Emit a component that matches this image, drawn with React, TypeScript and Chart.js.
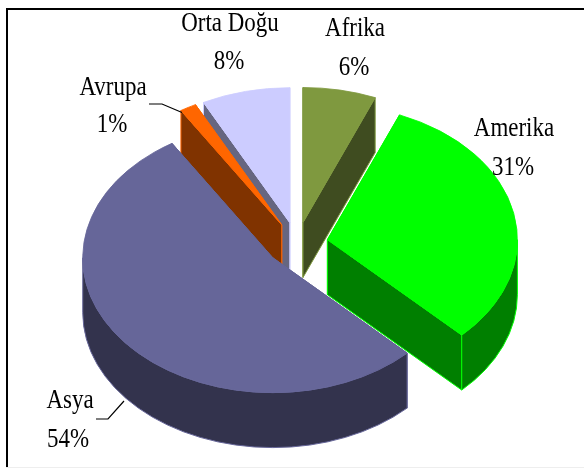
import React, { useEffect, useRef } from "react";
import { Chart } from "chart.js/auto";

const categories = ["Afrika", "Amerika", "Asya", "Avrupa", "Orta Doğu"];
const shares = [6.2, 31.3, 53.6, 1.4, 7.5];
const faceColors = ["#7F993F", "#00FF00", "#666699", "#FF6600", "#CCCCFF"];
const wallColors = ["#3F4C20", "#007F00", "#33334D", "#803300", "#666680"];
const paintOrder = [0, 4, 3, 1, 2];

const labelCenters = [355, 514, 70, 113, 230];
const nameBaselines = [36, 136, 408, 95, 31];
const valueCenters = [354, 513, 68, 112, 229];
const valueBaselines = [75, 175, 447, 132, 69];

const CX = 297;
const CY = 244;
const RADIUS = 190;
const TILT = 0.71;
const EXPLODE = 31;
const DEPTH = 55;

const piePlugin = {
  id: "tiltedPie",
  beforeDraw(chart: any) {
    const ctx = chart.ctx;
    ctx.save();
    ctx.fillStyle = "#fff";
    ctx.fillRect(0, 0, 584, 469);
    ctx.fillStyle = "#eeeeee";
    ctx.fillRect(6, 467, 578, 1);
    ctx.fillStyle = "#000";
    ctx.fillRect(6, 8, 578, 2);
    ctx.fillRect(6, 8, 2, 459);
    ctx.restore();
  },
  beforeDatasetDraw(chart: any) {
    const ctx = chart.ctx;
    const arcs = chart.getDatasetMeta(0).data;
    for (const i of paintOrder) {
      const arc = arcs[i];
      const a0 = arc.startAngle;
      const a1 = arc.endAngle;
      const mid = (a0 + a1) / 2;
      const ox = CX + Math.cos(mid) * EXPLODE;
      const oy = CY + Math.sin(mid) * EXPLODE * TILT;
      const px = (a: number) => ox + Math.cos(a) * RADIUS;
      const py = (a: number) => oy + Math.sin(a) * RADIUS * TILT;

      ctx.save();
      ctx.fillStyle = wallColors[i];
      ctx.strokeStyle = faceColors[i];
      ctx.lineWidth = 1;
      ctx.lineJoin = "round";
      // Paint the hidden cut first, so the visible cut ends up on top.
      const cuts = Math.cos(mid) < 0 ? [a1, a0] : [a0, a1];
      for (const a of cuts) {
        ctx.beginPath();
        ctx.moveTo(ox, oy);
        ctx.lineTo(px(a), py(a));
        ctx.lineTo(px(a), py(a) + DEPTH);
        ctx.lineTo(ox, oy + DEPTH);
        ctx.closePath();
        ctx.fill();
        ctx.stroke();
      }
      // Only the part of the rim that faces the viewer is visible.
      const from = Math.max(a0, 0);
      const to = Math.min(a1, Math.PI);
      if (to > from) {
        ctx.beginPath();
        ctx.ellipse(ox, oy, RADIUS, RADIUS * TILT, 0, from, to);
        ctx.ellipse(ox, oy + DEPTH, RADIUS, RADIUS * TILT, 0, to, from, true);
        ctx.closePath();
        ctx.fill();
        ctx.stroke();
      }
      ctx.restore();

      ctx.save();
      ctx.translate(ox, oy);
      ctx.scale(1, TILT);
      ctx.translate(-arc.x, -arc.y);
      arc.draw(ctx);
      ctx.restore();
    }
    return false;
  },
  afterDraw(chart: any) {
    const ctx = chart.ctx;
    ctx.save();
    ctx.strokeStyle = "#000";
    ctx.lineWidth = 1.2;
    ctx.beginPath();
    ctx.moveTo(149, 104);
    ctx.lineTo(162, 104);
    ctx.lineTo(182, 112.5);
    ctx.moveTo(96, 419);
    ctx.lineTo(108, 419);
    ctx.lineTo(124, 401);
    ctx.stroke();

    ctx.fillStyle = "#000";
    ctx.font = '27px "Liberation Serif"';
    ctx.textAlign = "center";
    ctx.textBaseline = "alphabetic";
    const squeezed = (text: string, x: number, y: number) =>
      ctx.fillText(text, x, y, ctx.measureText(text).width * 0.85);
    categories.forEach((name, i) => {
      squeezed(name, labelCenters[i], nameBaselines[i]);
      squeezed(`${Math.round(shares[i])}%`, valueCenters[i], valueBaselines[i]);
    });
    ctx.restore();
  },
};

export default function App() {
  const ref = useRef<HTMLCanvasElement>(null);
  useEffect(() => {
    const chart = new Chart(ref.current!, {
      type: "pie",
      data: {
        labels: categories,
        datasets: [
          {
            data: shares,
            backgroundColor: faceColors,
            borderColor: faceColors,
            borderWidth: 1,
          },
        ],
      },
      options: {
        responsive: false,
        animation: false,
        radius: RADIUS,
        layout: { padding: 0 },
        plugins: { legend: { display: false }, tooltip: { enabled: false } },
      } as any,
      plugins: [piePlugin as any],
    });
    return () => chart.destroy();
  }, []);
  return (
    <canvas
      ref={ref}
      width={584}
      height={469}
      style={{ position: "absolute", left: 0, top: 0, display: "block" }}
    />
  );
}
